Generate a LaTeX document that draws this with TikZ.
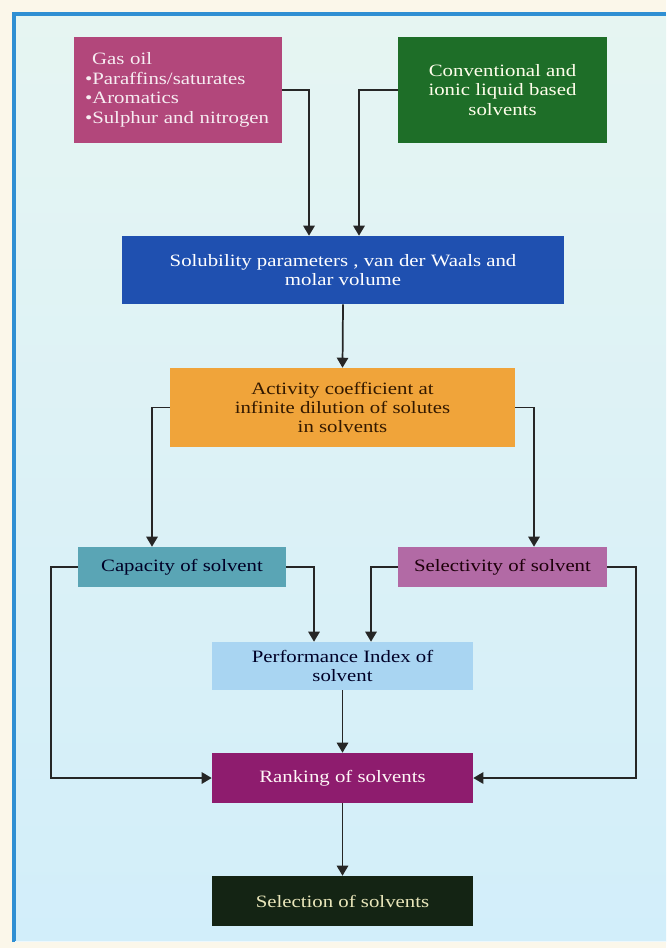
\documentclass[tikz,border=0pt]{standalone}
\usepackage{fontspec}
\setmainfont[FakeStretch=1.2]{Liberation Serif}
\usetikzlibrary{arrows.meta}

\definecolor{pagecream}{HTML}{FBF7EA}
\definecolor{frameblue}{HTML}{2F8FD3}
\definecolor{bgtop}{HTML}{E6F5F2}
\definecolor{bgbottom}{HTML}{D2EEFA}
\definecolor{gasfill}{HTML}{B2477B}
\definecolor{convfill}{HTML}{1E6E28}
\definecolor{solfill}{HTML}{1F50B0}
\definecolor{actfill}{HTML}{F0A43A}
\definecolor{capfill}{HTML}{5AA5B5}
\definecolor{selfill}{HTML}{B26AA5}
\definecolor{perffill}{HTML}{A9D5F2}
\definecolor{rankfill}{HTML}{8E1C6E}
\definecolor{choicefill}{HTML}{142414}
\definecolor{wire}{HTML}{262626}

\tikzset{
  box/.style={rectangle, inner sep=0pt, align=center,
    font=\fontsize{13}{14.6}\selectfont},
  arr/.style={draw=wire, line width=1.3pt,
    -{Triangle[length=7.5pt,width=8.5pt]}}
}

\begin{document}
\begin{tikzpicture}[x=0.75pt,y=-0.75pt]
  % page and framed panel
  \fill[pagecream] (0,0) rectangle (666,948);
  \shade[top color=bgtop, bottom color=bgbottom] (14,14) rectangle (666,941);
  \draw[frameblue, line width=3pt] (13.5,942) -- (13.5,14) -- (666,14);
  \draw[white!60!bgbottom, line width=1pt] (15,941.5) -- (666,941.5);

  % inputs
  \node[box, fill=gasfill, text=white!90!gasfill,
        minimum width=208*0.75pt, minimum height=106*0.75pt,
        text width=186*0.75pt, align=left] (gas) at (178,90)
    {\hspace*{5.25pt}Gas oil\\
     \textbullet Paraffins/saturates\\
     \textbullet Aromatics\\
     \textbullet Sulphur and nitrogen};
  \node[box, fill=convfill, text=white!92!yellow,
        minimum width=209*0.75pt, minimum height=106*0.75pt] (conv) at (502.5,90)
    {Conventional and\\ionic liquid based\\solvents};

  % property estimation
  \node[box, fill=solfill, text=white,
        minimum width=442*0.75pt, minimum height=68*0.75pt] (sol) at (343,270)
    {Solubility parameters , van der Waals and\\molar volume};
  \node[box, fill=actfill, text=black!80!orange,
        minimum width=345*0.75pt, minimum height=79*0.75pt] (act) at (342.5,407.5)
    {Activity coefficient at\\infinite dilution of solutes\\in solvents};

  % solvent criteria
  \node[box, fill=capfill, text=black!85!blue,
        minimum width=208*0.75pt, minimum height=40*0.75pt] (cap) at (182,567)
    {Capacity of solvent};
  \node[box, fill=selfill, text=black!85!purple,
        minimum width=209*0.75pt, minimum height=40*0.75pt] (sel) at (502.5,567)
    {Selectivity of solvent};
  \node[box, fill=perffill, text=black!85!blue,
        minimum width=261*0.75pt, minimum height=48*0.75pt] (perf) at (342.5,666)
    {Performance Index of\\solvent};

  % outcome
  \node[box, fill=rankfill, text=white!88!pink,
        minimum width=261*0.75pt, minimum height=50*0.75pt] (rank) at (342.5,778)
    {Ranking of solvents};
  \node[box, fill=choicefill, text=white!80!olive,
        minimum width=261*0.75pt, minimum height=50*0.75pt] (choice) at (342.5,901)
    {Selection of solvents};

  % connectors
  \draw[arr] (gas.east) -| ([xshift=-34*0.75pt]sol.north);
  \draw[arr] (conv.west) -| ([xshift=16*0.75pt]sol.north);
  \draw[arr] (sol.south) -- (act.north);
  \draw[arr] (act.west) -| ([xshift=-30*0.75pt]cap.north);
  \draw[arr] (act.east) -| ([xshift=31.5*0.75pt]sel.north);
  \draw[arr] (cap.east) -| ([xshift=-28.5*0.75pt]perf.north);
  \draw[arr] (sel.west) -| ([xshift=28.5*0.75pt]perf.north);
  \draw[arr] (cap.west) -- ++(-27,0) |- (rank.west);
  \draw[arr] (sel.east) -- ++(29,0) |- (rank.east);
  \draw[arr] (perf.south) -- (rank.north);
  \draw[arr] (rank.south) -- (choice.north);
\end{tikzpicture}
\end{document}
